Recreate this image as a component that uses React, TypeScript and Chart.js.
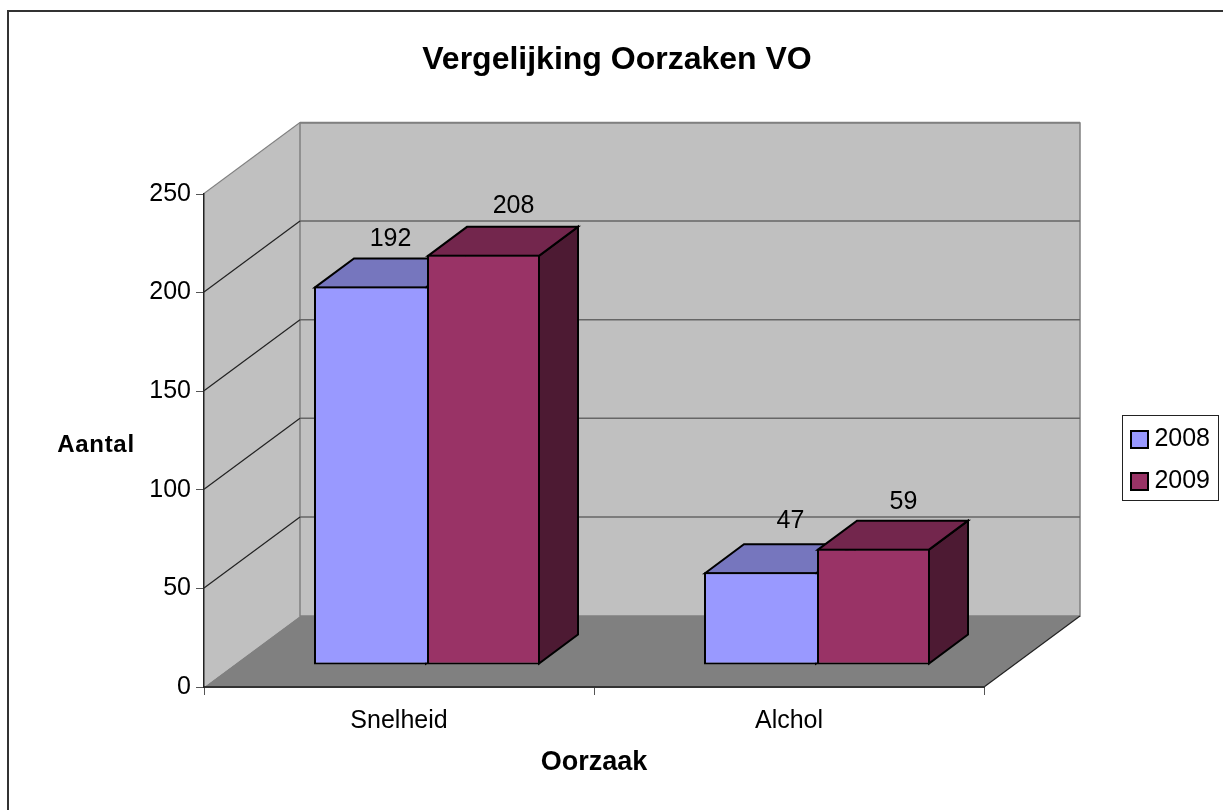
import React, { useEffect, useRef } from "react";
import { Chart, registerables } from "chart.js";

Chart.register(...registerables);

const categories = ["Snelheid", "Alchol"];
const series2008 = [192, 47];
const series2009 = [208, 59];
const seriesNames = ["2008", "2009"];
const chartTitle = "Vergelijking Oorzaken VO";
const yTitle = "Aantal";
const xTitle = "Oorzaak";

const FONT = "'Liberation Sans', Arial, sans-serif";
const WALL_DX = 96;
const WALL_DY = -71;
const BAR_SHIFT_X = 28;
const BAR_SHIFT_Y = -22;
const BAR_DX = 39;
const BAR_DY = -29;
const labelNudges = [
  [[20, -47], [30, -49]],
  [[30, -51], [30, -47]],
];
const faceColors = [
  { top: "#7676BE", side: "#4D4D80" },
  { top: "#73264D", side: "#4D1A33" },
];

function poly(ctx: CanvasRenderingContext2D, pts: number[][]) {
  ctx.beginPath();
  pts.forEach((p, i) => (i ? ctx.lineTo(p[0], p[1]) : ctx.moveTo(p[0], p[1])));
  ctx.closePath();
}

const scene3d = {
  id: "scene3d",
  afterLayout(chart: any) {
    const { legend, titleBlock } = chart;
    if (titleBlock) {
      titleBlock.left = 11;
      titleBlock.right = 1223;
    }
    if (legend) {
      legend.left = 1114;
      legend.right = 1210;
      legend.top = 214;
      legend.bottom = 707;
    }
  },
  beforeDraw(chart: any) {
    const { ctx, chartArea: a } = chart;
    const L = a.left, R = a.right, T = a.top, B = a.bottom;
    ctx.save();
    ctx.fillStyle = "#FFFFFF";
    ctx.fillRect(0, 0, chart.width, chart.height);
    // outer frame
    ctx.strokeStyle = "#333333";
    ctx.lineWidth = 2;
    ctx.beginPath();
    ctx.moveTo(8, chart.height);
    ctx.lineTo(8, 11);
    ctx.lineTo(chart.width, 11);
    ctx.stroke();
    // walls
    ctx.fillStyle = "#C0C0C0";
    poly(ctx, [[L, T], [L + WALL_DX, T + WALL_DY], [L + WALL_DX, B + WALL_DY], [L, B]]);
    ctx.fill();
    poly(ctx, [[L + WALL_DX, T + WALL_DY], [R + WALL_DX, T + WALL_DY], [R + WALL_DX, B + WALL_DY], [L + WALL_DX, B + WALL_DY]]);
    ctx.fill();
    ctx.strokeStyle = "#808080";
    ctx.lineWidth = 1.5;
    ctx.stroke();
    ctx.fillStyle = "#808080";
    poly(ctx, [[L, B], [L + WALL_DX, B + WALL_DY], [R + WALL_DX, B + WALL_DY], [R, B]]);
    ctx.fill();
    // grid lines
    const yScale = chart.scales.y;
    yScale.ticks.forEach((t: any) => {
      if (t.value === 0) return;
      const py = yScale.getPixelForValue(t.value) - 0.5;
      ctx.lineWidth = 1.5;
      ctx.strokeStyle = t.value === 250 ? "#808080" : "#666666";
      ctx.beginPath();
      ctx.moveTo(L + WALL_DX, py + WALL_DY);
      ctx.lineTo(R + WALL_DX, py + WALL_DY);
      ctx.stroke();
      ctx.lineWidth = 1.2;
      ctx.strokeStyle = t.value === 250 ? "#808080" : "#222222";
      ctx.beginPath();
      ctx.moveTo(L, py);
      ctx.lineTo(L + WALL_DX, py + WALL_DY);
      ctx.stroke();
    });
    // floor right edge
    ctx.lineWidth = 1.2;
    ctx.strokeStyle = "#222222";
    ctx.beginPath();
    ctx.moveTo(R, B);
    ctx.lineTo(R + WALL_DX, B + WALL_DY);
    ctx.stroke();
    // legend frame
    ctx.strokeStyle = "#222222";
    ctx.lineWidth = 1;
    ctx.strokeRect(1122.5, 415.5, 96, 85);
    ctx.restore();
  },
  beforeDatasetsDraw(chart: any) {
    const { ctx } = chart;
    ctx.save();
    ctx.strokeStyle = "#000000";
    ctx.lineWidth = 2;
    ctx.lineJoin = "miter";
    [0, 1].forEach((ds) => {
      chart.getDatasetMeta(ds).data.forEach((el: any) => {
        const x0 = el.x - el.width / 2 + BAR_SHIFT_X + 1;
        const x1 = el.x + el.width / 2 + BAR_SHIFT_X - 1;
        const yt = el.y + BAR_SHIFT_Y + 1;
        const yb = el.base + BAR_SHIFT_Y - 1;
        ctx.fillStyle = faceColors[ds].side;
        poly(ctx, [[x1, yt], [x1 + BAR_DX, yt + BAR_DY], [x1 + BAR_DX, yb + BAR_DY], [x1, yb]]);
        ctx.fill();
        ctx.stroke();
        ctx.fillStyle = faceColors[ds].top;
        poly(ctx, [[x0, yt], [x0 + BAR_DX, yt + BAR_DY], [x1 + BAR_DX, yt + BAR_DY], [x1, yt]]);
        ctx.fill();
        ctx.stroke();
      });
    });
    ctx.restore();
  },
  beforeDatasetDraw(chart: any) {
    chart.ctx.save();
    chart.ctx.translate(BAR_SHIFT_X, BAR_SHIFT_Y);
  },
  afterDatasetDraw(chart: any) {
    chart.ctx.restore();
  },
  afterDatasetsDraw(chart: any) {
    const { ctx } = chart;
    ctx.save();
    ctx.fillStyle = "#000000";
    ctx.font = `25px ${FONT}`;
    ctx.textAlign = "center";
    ctx.textBaseline = "middle";
    [0, 1].forEach((ds) => {
      chart.getDatasetMeta(ds).data.forEach((el: any, i: number) => {
        const [nx, ny] = labelNudges[i][ds];
        const v = chart.data.datasets[ds].data[i];
        ctx.fillText(String(v), el.x + BAR_SHIFT_X + nx, el.y + BAR_SHIFT_Y + ny);
      });
    });
    ctx.restore();
  },
  afterDraw(chart: any) {
    const { ctx } = chart;
    ctx.save();
    ctx.fillStyle = "#000000";
    ctx.font = `bold 24px ${FONT}`;
    ctx.textAlign = "center";
    ctx.textBaseline = "middle";
    ctx.letterSpacing = "0.7px";
    ctx.fillText(yTitle, 96, 445);
    ctx.restore();
  },
};

export default function App() {
  const ref = useRef<HTMLCanvasElement>(null);
  useEffect(() => {
    const chart = new Chart(ref.current as HTMLCanvasElement, {
      type: "bar",
      data: {
        labels: categories,
        datasets: [
          {
            label: seriesNames[0],
            data: series2008,
            backgroundColor: "#9999FF",
            borderColor: "#000000",
            borderWidth: { left: 2, top: 2, bottom: 2, right: 0 },
            borderSkipped: false,
            clip: false,
          },
          {
            label: seriesNames[1],
            data: series2009,
            backgroundColor: "#993366",
            borderColor: "#000000",
            borderWidth: 2,
            borderSkipped: false,
            clip: false,
          },
        ],
      } as any,
      options: {
        animation: false,
        responsive: false,
        events: [],
        layout: { padding: { left: 0, right: 139, top: 0, bottom: 0 } },
        datasets: { bar: { categoryPercentage: 0.5795, barPercentage: 1 } },
        plugins: {
          title: {
            display: true,
            text: chartTitle,
            color: "#000000",
            font: { family: FONT, size: 32, weight: "bold" },
            padding: { top: 41, bottom: 114.6 },
          },
          legend: {
            display: true,
            position: "right",
            maxWidth: 100,
            labels: {
              color: "#000000",
              font: { family: FONT, size: 25 },
              boxWidth: 17,
              boxHeight: 17,
              padding: 17,
              textAlign: "right",
              generateLabels: (c: any) =>
                Chart.defaults.plugins.legend.labels.generateLabels(c).map((l: any) => ({ ...l, lineWidth: 2 })),
            },
          },
          tooltip: { enabled: false },
        },
        scales: {
          x: {
            type: "category",
            afterFit: (s: any) => {
              s.height = 123;
            },
            grid: { drawOnChartArea: false, drawTicks: true, tickLength: 8, tickColor: "#555555" },
            border: { color: "#333333", width: 2 },
            ticks: {
              color: "#000000",
              font: { family: FONT, size: 25 },
              padding: 11,
              maxRotation: 0,
              autoSkip: false,
            },
            title: {
              display: true,
              text: xTitle,
              color: "#000000",
              font: { family: FONT, size: 27, weight: "bold" },
              padding: { top: 0, bottom: 31 },
            },
          },
          y: {
            min: 0,
            max: 250,
            afterFit: (s: any) => {
              s.width = 204;
            },
            grid: { drawOnChartArea: false, drawTicks: true, tickLength: 8, tickColor: "#555555" },
            border: { color: "#222222", width: 1.5 },
            ticks: {
              stepSize: 50,
              color: "#000000",
              font: { family: FONT, size: 25 },
              padding: 5,
            },
          },
        },
      } as any,
      plugins: [scene3d],
    });
    return () => chart.destroy();
  }, []);
  return (
    <div style={{ position: "absolute", left: 0, top: 0, width: 1223, height: 810 }}>
      <canvas ref={ref} width={1223} height={810} style={{ display: "block" }} />
    </div>
  );
}
